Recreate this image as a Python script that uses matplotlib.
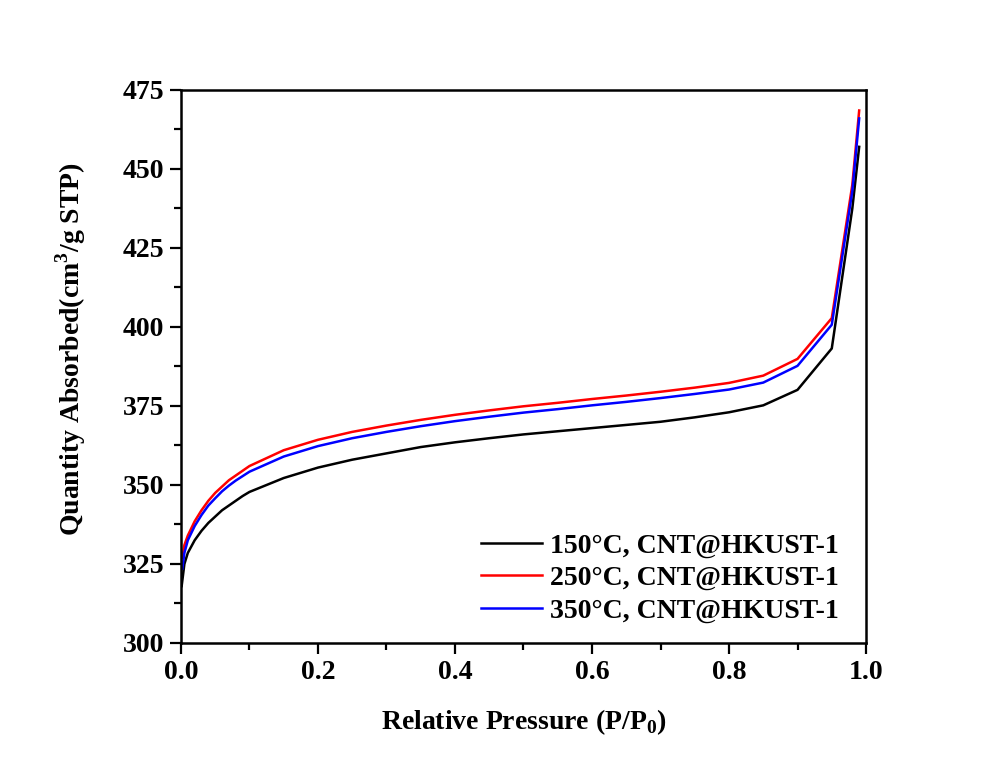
import numpy as np
import matplotlib
matplotlib.use("Agg")
import matplotlib.pyplot as plt
from matplotlib.ticker import MultipleLocator

plt.rcParams['font.family'] = ['Liberation Serif', 'DejaVu Serif']
plt.rcParams['font.weight'] = 'bold'
plt.rcParams['mathtext.fontset'] = 'custom'
plt.rcParams['mathtext.rm'] = 'Liberation Serif:bold'
plt.rcParams['mathtext.bf'] = 'Liberation Serif:bold'

p_150 = [0.001, 0.005, 0.01, 0.02, 0.03, 0.04, 0.05, 0.06, 0.07, 0.08, 0.09, 0.1,
         0.15, 0.2, 0.25, 0.3, 0.35, 0.4, 0.45, 0.5, 0.55, 0.6, 0.65, 0.7, 0.75,
         0.8, 0.85, 0.9, 0.95, 0.98, 0.99]
q_150 = [318, 325, 328.5, 332.5, 335.5, 338, 340, 342, 343.5, 345, 346.5, 347.8,
         352.2, 355.5, 358, 360, 362, 363.5, 364.8, 366, 367, 368, 369, 370, 371.4,
         373, 375.2, 380.1, 393.2, 437.5, 457]

p_250 = [0.002, 0.005, 0.01, 0.02, 0.03, 0.04, 0.05, 0.06, 0.07, 0.08, 0.09, 0.1,
         0.15, 0.2, 0.25, 0.3, 0.35, 0.4, 0.45, 0.5, 0.55, 0.6, 0.65, 0.7, 0.75,
         0.8, 0.85, 0.9, 0.95, 0.98, 0.99]
q_250 = [327, 331, 334, 338.5, 342, 345, 347.5, 349.5, 351.5, 353, 354.5, 356,
         361, 364.3, 366.8, 368.8, 370.6, 372.2, 373.6, 374.9, 376, 377.2, 378.3, 379.5, 380.8,
         382.3, 384.6, 389.9, 402.8, 445, 468.5]

p_350 = p_250
q_350 = [323.5, 328.5, 332.5, 337, 340.5, 343.5, 345.8, 348, 349.8, 351.4, 352.8, 354.2,
         359, 362.3, 364.8, 366.8, 368.6, 370.2, 371.6, 372.9, 374, 375.2, 376.3, 377.5, 378.8,
         380.2, 382.4, 387.7, 400.7, 443, 466]

labels = ['150°C, CNT@HKUST-1', '250°C, CNT@HKUST-1', '350°C, CNT@HKUST-1']

fig = plt.figure(figsize=(9.83, 7.67), dpi=100)
ax = fig.add_axes([0.1841, 0.1617, 0.6969, 0.721])

ax.plot(p_150, q_150, color='black', lw=1.8, label=labels[0])
ax.plot(p_250, q_250, color='red', lw=1.8, label=labels[1])
ax.plot(p_350, q_350, color='blue', lw=1.8, label=labels[2])

ax.set_xlim(0, 1.0)
ax.set_ylim(300, 475)
ax.xaxis.set_major_locator(MultipleLocator(0.2))
ax.xaxis.set_minor_locator(MultipleLocator(0.1))
ax.yaxis.set_major_locator(MultipleLocator(25))
ax.yaxis.set_minor_locator(MultipleLocator(12.5))
ax.xaxis.set_major_formatter(plt.FuncFormatter(lambda v, _: f'{v:.1f}'))

ax.tick_params(which='major', direction='out', length=8, width=1.6, labelsize=20, pad=4)
ax.tick_params(which='minor', direction='out', length=5, width=1.6)
for s in ax.spines.values():
    s.set_linewidth(1.8)

ax.set_xlabel('Relative Pressure (P/P$_\\mathregular{0}$)', fontsize=20, fontweight='bold', labelpad=16)
ax.set_ylabel('Quantity Absorbed(cm$^\\mathregular{3}$/g STP)', fontsize=20, fontweight='bold')
ax.yaxis.set_label_coords(-0.136, 0.532)

ax.legend(loc='lower right', frameon=False, fontsize=20, handlelength=2.2,
          handletextpad=0.3, labelspacing=0.25, bbox_to_anchor=(0.997, -0.01))

fig.savefig('out.png', dpi=100)
